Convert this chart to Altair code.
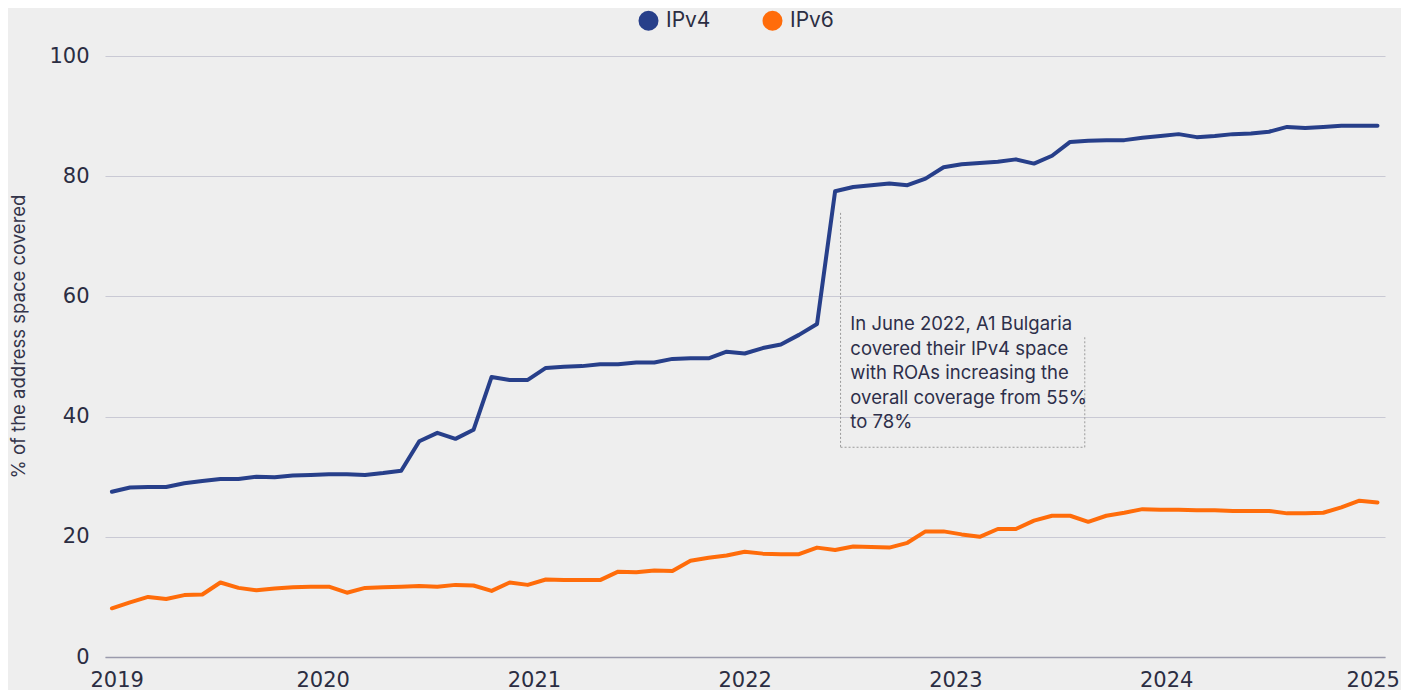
import altair as alt
import pandas as pd

# ---- data ----
years = [2019, 2020, 2021, 2022, 2023, 2024, 2025]
series_names = ["IPv4", "IPv6"]
series_colors = ["#273f8a", "#ff6c0a"]

ipv4 = [27.5, 28.2, 28.3, 28.3, 28.9, 29.3, 29.6, 29.6, 30.0, 29.9, 30.2, 30.3,
        30.4, 30.4, 30.3, 30.6, 31.0, 35.9, 37.3, 36.3, 37.8, 46.6, 46.1, 46.1,
        48.1, 48.3, 48.4, 48.7, 48.7, 49.0, 49.0, 49.6, 49.7, 49.7, 50.8, 50.5,
        51.4, 52.0, 53.6, 55.4, 77.5, 78.2, 78.5, 78.8, 78.5, 79.6, 81.5, 82.0,
        82.2, 82.4, 82.8, 82.1, 83.4, 85.7, 85.9, 86.0, 86.0, 86.4, 86.7, 87.0,
        86.5, 86.7, 87.0, 87.1, 87.4, 88.2, 88.0, 88.2, 88.4, 88.4, 88.4]

ipv6 = [8.1, 9.1, 10.0, 9.65, 10.3, 10.4, 12.4, 11.5, 11.1, 11.4, 11.6, 11.7,
        11.7, 10.7, 11.5, 11.6, 11.7, 11.8, 11.7, 12.0, 11.9, 11.0, 12.4, 12.0,
        12.9, 12.8, 12.8, 12.8, 14.2, 14.1, 14.4, 14.3, 16.0, 16.5, 16.9, 17.5,
        17.2, 17.1, 17.1, 18.2, 17.8, 18.4, 18.3, 18.2, 19.0, 20.9, 20.9, 20.4,
        20.0, 21.3, 21.3, 22.7, 23.5, 23.5, 22.5, 23.5, 24.0, 24.6, 24.5, 24.5,
        24.4, 24.4, 24.3, 24.3, 24.3, 23.9, 23.9, 24.0, 24.9, 26.0, 25.7]

annotation_text = ("In June 2022, A1 Bulgaria\ncovered their IPv4 space\n"
                   "with ROAs increasing the\noverall coverage from 55%\nto 78%")
# dotted bracket around the note (data coordinates)
bracket_x = ["2022-06-16T00:00:00", "2022-06-16T00:00:00", "2023-08-13T00:00:00"]
bracket_x2 = ["2022-06-16T00:00:00", "2023-08-13T00:00:00", "2023-08-13T00:00:00"]
bracket_y = [73.9, 34.9, 53.2]
bracket_y2 = [34.9, 34.9, 34.9]
note_x = ["2022-07-03T00:00:00"]
note_y = [54.4]

# ---- tables ----
dates = pd.date_range("2019-01-01", "2025-01-01", periods=len(ipv4))
df = pd.DataFrame({
    "date": list(dates) * 2,
    "value": ipv4 + ipv6,
    "series": [series_names[0]] * len(ipv4) + [series_names[1]] * len(ipv6),
})
bracket_df = pd.DataFrame({"x": bracket_x, "x2": bracket_x2, "y": bracket_y, "y2": bracket_y2})
note_df = pd.DataFrame({"x": note_x, "y": note_y, "t": [annotation_text]})

FONT = "Inter"
NUMFONT = "DejaVu Sans"
TEXT = "#2b2d42"

x_scale = alt.Scale(domain=[alt.DateTime(year=2018, month=12, date=20),
                            alt.DateTime(year=2025, month=1, date=14)])
y_scale = alt.Scale(domain=[0, 100], nice=False)

lines = alt.Chart(df).mark_line(strokeWidth=4, strokeJoin="round", strokeCap="round").encode(
    x=alt.X("date:T", scale=x_scale,
            axis=alt.Axis(values=[alt.DateTime(year=y, month=1, date=1) for y in years],
                          format="%Y", title=None, grid=False, ticks=False, tickSize=0,
                          domain=True, domainColor="#9a9aac", domainWidth=1.5,
                          labelFontSize=21, labelFont=NUMFONT, labelColor=TEXT,
                          labelPadding=12, labelFlush=10, labelFlushOffset=22,
                          labelOverlap=False)),
    y=alt.Y("value:Q", scale=y_scale,
            axis=alt.Axis(values=[0, 20, 40, 60, 80, 100], title="% of the address space covered",
                          grid=True, gridColor="#c9c9d4", gridWidth=1, domain=False,
                          ticks=False, tickSize=0, labelFontSize=21, labelFont=NUMFONT,
                          labelColor=TEXT, labelPadding=16,
                          titleFont=FONT, titleFontSize=18.5, titleFontWeight="normal",
                          titleColor="#33344a", titleAngle=270, titleAlign="center",
                          titleBaseline="middle", titleX=-87, titleY=280)),
    color=alt.Color("series:N",
                    scale=alt.Scale(domain=series_names, range=series_colors),
                    legend=alt.Legend(title=None, orient="none", legendX=533, legendY=-46,
                                      direction="horizontal", symbolType="circle",
                                      symbolSize=100, symbolStrokeWidth=10,
                                      symbolOpacity=1, labelFontSize=21, labelFont=FONT,
                                      labelColor=TEXT, labelOffset=7, columnPadding=36,
                                      padding=0)),
)

bracket = alt.Chart(bracket_df).mark_rule(color="#9a9a9a", strokeWidth=1, strokeDash=[2, 2]).encode(
    x=alt.X("x:T", scale=x_scale), x2="x2:T",
    y=alt.Y("y:Q", scale=y_scale), y2="y2:Q",
)

note = alt.Chart(note_df).mark_text(align="left", baseline="alphabetic", lineBreak="\n",
                                    lineHeight=24.6, fontSize=18.5, font=FONT,
                                    color="#2d2f4a").encode(
    x=alt.X("x:T", scale=x_scale), y=alt.Y("y:Q", scale=y_scale), text="t:N",
)

chart = alt.layer(lines, bracket, note).properties(
    width=1280, height=601,
    autosize=alt.AutoSizeParams(type="none"),
    padding={"left": 97, "top": 48, "right": 16, "bottom": 40},
    background="#eeeeee",
).configure_view(stroke=None)

chart.save("out.html", embed_options={"renderer": "svg", "actions": False})
